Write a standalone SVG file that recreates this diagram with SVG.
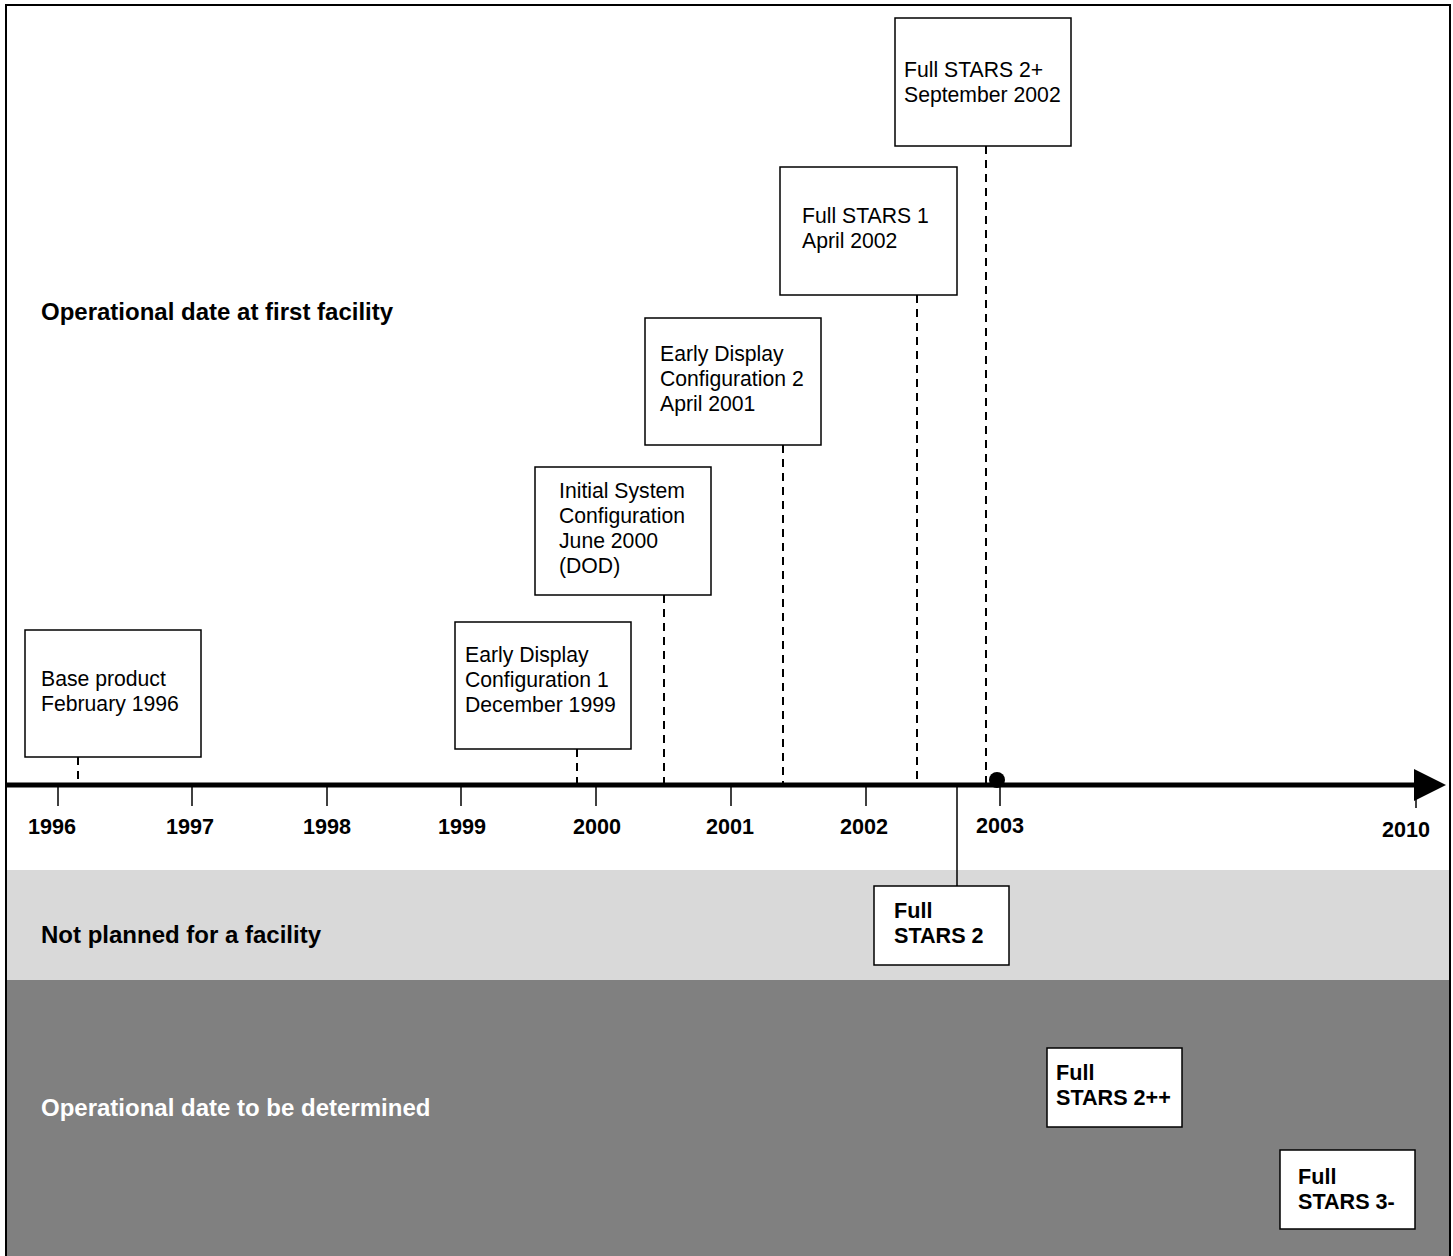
<svg xmlns="http://www.w3.org/2000/svg" width="1453" height="1256" viewBox="0 0 1453 1256">
<style>
.box{fill:#fff;stroke:#000;stroke-width:1.5}
.t{font-family:"Liberation Sans",Arial,sans-serif;font-size:21.2px;fill:#000}
.tb{font-family:"Liberation Sans",Arial,sans-serif;font-size:21.6px;font-weight:bold;fill:#000}
.yr{font-family:"Liberation Sans",Arial,sans-serif;font-size:21.6px;font-weight:bold;fill:#000;text-anchor:middle}
.hd{font-family:"Liberation Sans",Arial,sans-serif;font-size:24px;font-weight:bold}
.dash{stroke:#000;stroke-width:2;stroke-dasharray:8,6;fill:none}
.tick{stroke:#000;stroke-width:1.5}
</style>
<rect x="0" y="0" width="1453" height="1256" fill="#fff"/>
<rect x="6" y="870" width="1444" height="110" fill="#d9d9d9"/>
<rect x="6" y="980" width="1444" height="276" fill="#808080"/>
<rect x="6" y="5" width="1444" height="1260" fill="none" stroke="#000" stroke-width="2"/>
<text class="hd" x="41" y="320" fill="#000">Operational date at first facility</text>
<text class="hd" x="41" y="943" fill="#000">Not planned for a facility</text>
<text class="hd" x="41" y="1116" fill="#fff">Operational date to be determined</text>
<g id="connectors">
<line class="dash" x1="78" y1="757" x2="78" y2="785"/>
<line class="dash" x1="577" y1="749" x2="577" y2="785"/>
<line class="dash" x1="664" y1="595" x2="664" y2="785"/>
<line class="dash" x1="783" y1="445" x2="783" y2="785"/>
<line class="dash" x1="917" y1="295" x2="917" y2="785"/>
<line class="dash" x1="986" y1="146" x2="986" y2="785"/>
<line x1="957" y1="787" x2="957" y2="886" stroke="#000" stroke-width="1.5"/>
</g>
<g id="axis">
<line x1="6" y1="785" x2="1418" y2="785" stroke="#000" stroke-width="5"/>
<polygon points="1414,769 1446,785 1414,801" fill="#000"/>
<circle cx="997" cy="780" r="8" fill="#000"/>
<line class="tick" x1="58" y1="787" x2="58" y2="806"/>
<line class="tick" x1="192" y1="787" x2="192" y2="806"/>
<line class="tick" x1="327" y1="787" x2="327" y2="806"/>
<line class="tick" x1="461" y1="787" x2="461" y2="806"/>
<line class="tick" x1="596" y1="787" x2="596" y2="806"/>
<line class="tick" x1="731" y1="787" x2="731" y2="806"/>
<line class="tick" x1="866" y1="787" x2="866" y2="806"/>
<line class="tick" x1="1000" y1="787" x2="1000" y2="806"/>
<line class="tick" x1="1416" y1="787" x2="1416" y2="808"/>
<text class="yr" x="52" y="834">1996</text>
<text class="yr" x="190" y="834">1997</text>
<text class="yr" x="327" y="834">1998</text>
<text class="yr" x="462" y="834">1999</text>
<text class="yr" x="597" y="834">2000</text>
<text class="yr" x="730" y="834">2001</text>
<text class="yr" x="864" y="834">2002</text>
<text class="yr" x="1000" y="833">2003</text>
<text class="yr" x="1406" y="837">2010</text>
</g>
<g id="base-product">
<rect class="box" x="25" y="630" width="176" height="127"/>
<text class="t" x="41" y="686">Base product</text>
<text class="t" x="41" y="711">February 1996</text>
</g>
<g id="edc1">
<rect class="box" x="455" y="622" width="176" height="127"/>
<text class="t" x="465" y="662">Early Display</text>
<text class="t" x="465" y="687">Configuration 1</text>
<text class="t" x="465" y="712">December 1999</text>
</g>
<g id="isc">
<rect class="box" x="535" y="467" width="176" height="128"/>
<text class="t" x="559" y="498">Initial System</text>
<text class="t" x="559" y="523">Configuration</text>
<text class="t" x="559" y="548">June 2000</text>
<text class="t" x="559" y="573">(DOD)</text>
</g>
<g id="edc2">
<rect class="box" x="645" y="318" width="176" height="127"/>
<text class="t" x="660" y="361">Early Display</text>
<text class="t" x="660" y="386">Configuration 2</text>
<text class="t" x="660" y="411">April 2001</text>
</g>
<g id="fs1">
<rect class="box" x="780" y="167" width="177" height="128"/>
<text class="t" x="802" y="223">Full STARS 1</text>
<text class="t" x="802" y="248">April 2002</text>
</g>
<g id="fs2plus">
<rect class="box" x="895" y="18" width="176" height="128"/>
<text class="t" x="904" y="77">Full STARS 2+</text>
<text class="t" x="904" y="102">September 2002</text>
</g>
<g id="fs2">
<rect class="box" x="874" y="886" width="135" height="79"/>
<text class="tb" x="894" y="918">Full</text>
<text class="tb" x="894" y="943">STARS 2</text>
</g>
<g id="fs2pp">
<rect class="box" x="1047" y="1048" width="135" height="79"/>
<text class="tb" x="1056" y="1080">Full</text>
<text class="tb" x="1056" y="1105">STARS 2++</text>
</g>
<g id="fs3m">
<rect class="box" x="1280" y="1150" width="135" height="79"/>
<text class="tb" x="1298" y="1184">Full</text>
<text class="tb" x="1298" y="1209">STARS 3-</text>
</g>
</svg>
